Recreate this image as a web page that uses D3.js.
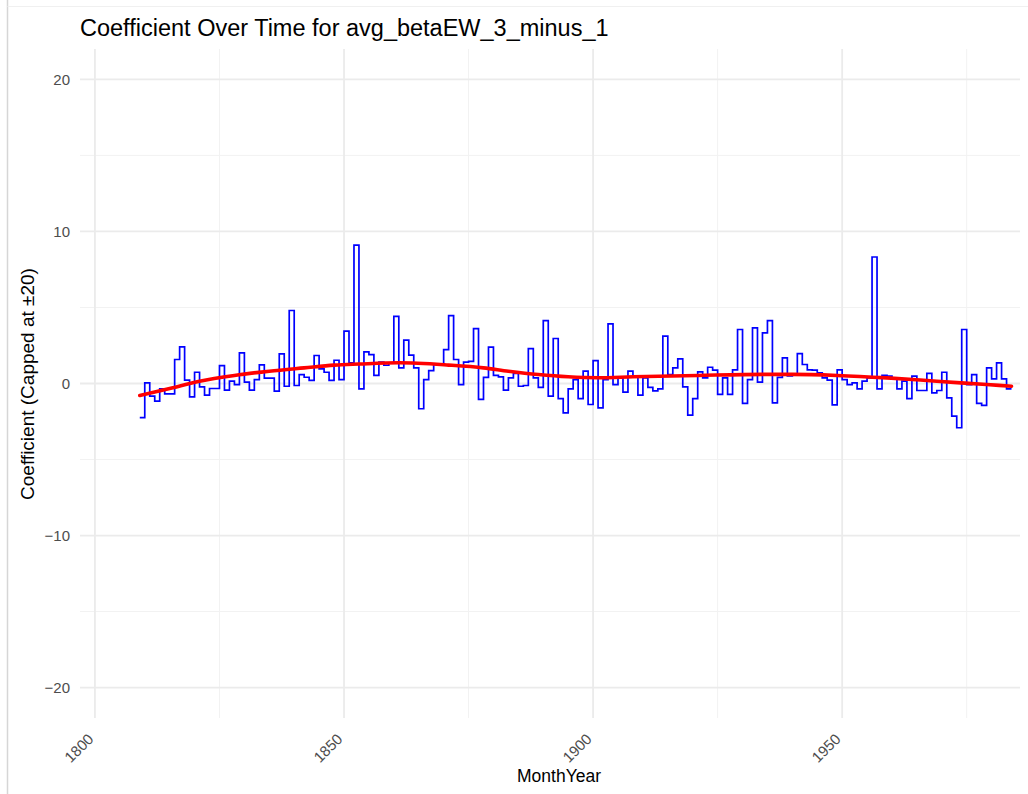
<!DOCTYPE html>
<html><head><meta charset="utf-8">
<script src="https://cdn.jsdelivr.net/npm/d3@7"></script>
<style>
html,body{margin:0;padding:0;background:#fff;}
svg{display:block;font-family:"Liberation Sans",Arial,Helvetica,sans-serif;}
</style></head>
<body><svg id="chart" width="1028" height="794"></svg>
<script>
// ---- data ----
const chartTitle = "Coefficient Over Time for avg_betaEW_3_minus_1";
const xTitle = "MonthYear";
const yTitle = "Coefficient (Capped at \u00B120)";
const startYear = 1809;
const coefValues = [
 -2.25, 0.04, -0.83, -1.16, -0.35, -0.68, -0.68, 1.58, 2.41, 0.22,
 -0.88, 0.74, -0.22, -0.77, -0.33, -0.33, 1.18, -0.44, 0.15, -0.07,
 2.01, 0.09, -0.44, 0.26, 1.23, 0.35, 0.35, -0.5, 1.95, -0.18,
 4.8, -0.13, 0.59, 0.41, 0.2, 1.84, 0.96, 0.74, 0.2, 1.53,
 0.26, 3.44, 1.36, 9.1, -0.35, 2.08, 1.9, 0.53, 1.4, 1.2,
 1.35, 4.42, 1.03, 2.85, 1.86, 1.03, -1.66, 0.26, 0.85, 1.25,
 1.2, 2.23, 4.47, 1.58, -0.07, 1.4, 1.45, 3.61, -1.05, 0.4,
 2.39, 0.53, 0.44, -0.44, 0.37, 0.66, -0.18, -0.13, 2.3, 0.37,
 -0.26, 4.14, -0.83, 2.96, -1.0, -1.93, -0.35, 0.26, -1.0, 0.81,
 -1.38, 1.51, -1.6, 0.26, 3.92, -0.07, 0.35, -0.57, 0.81, 0.42,
 -0.77, 0.37, -0.26, -0.48, -0.35, 3.11, 0.59, 1.03, 1.62, -0.22,
 -2.08, -1.0, 0.77, 0.37, 1.07, 0.88, -0.72, 0.37, -0.72, 0.9,
 3.55, -1.31, 0.26, 3.66, 0.09, 3.33, 4.14, -1.27, 0.4, 1.69,
 0.5, 0.55, 1.97, 1.25, 0.9, 0.88, 0.7, 0.37, 0.22, -1.4,
 0.9, 0.26, -0.07, 0.04, -0.35, 0.15, 0.37, 8.32, -0.35, 0.53,
 0.48, 0.31, -0.35, 0.15, -1.0, 0.48, -0.46, -0.46, 0.66, -0.61,
 -0.46, 0.74, -0.94, -2.15, -2.91, 3.55, -0.07, 0.59, -1.31, -1.44,
 1.03, 0.31, 1.36, 0.31, -0.35, -0.35
];
const smoothYears  = [1809, 1815, 1821, 1828, 1835, 1842, 1848, 1853, 1861, 1871, 1878, 1883, 1889, 1895, 1901, 1908, 1921, 1934, 1940, 1949, 1959, 1969, 1979, 1984];
const smoothValues = [-0.79, -0.33, 0.15, 0.53, 0.81, 1.03, 1.21, 1.28, 1.36, 1.21, 1.03, 0.81, 0.59, 0.44, 0.38, 0.44, 0.53, 0.6, 0.6, 0.53, 0.37, 0.15, -0.07, -0.18];
const xTicks = [1800, 1850, 1900, 1950];
const xMinor = [1825, 1875, 1925, 1975];
const yTicks = [-20, -10, 0, 10, 20];
const yMinor = [-15, -5, 5, 15];
const xDomain = [1797, 1985.7];
const yDomain = [-22, 22];

// ---- layout ----
const panel = {left: 80, right: 1020, top: 49, bottom: 718};
const svg = d3.select("#chart");

// frame lines (screenshot border)
svg.append("line").attr("x1",7.5).attr("x2",7.5).attr("y1",0).attr("y2",794).attr("stroke","#d6d6d6").attr("stroke-width",1.5);
svg.append("line").attr("x1",7.5).attr("x2",1028).attr("y1",6.5).attr("y2",6.5).attr("stroke","#f0f0f0").attr("stroke-width",1);

const x = d3.scaleLinear().domain(xDomain).range([panel.left, panel.right]);
const y = d3.scaleLinear().domain(yDomain).range([panel.bottom, panel.top]);

const grid = svg.append("g");
grid.selectAll(".ymin").data(yMinor).join("line")
  .attr("x1",panel.left).attr("x2",panel.right).attr("y1",d=>y(d)).attr("y2",d=>y(d))
  .attr("stroke","#f2f2f2").attr("stroke-width",1);
grid.selectAll(".xmin").data(xMinor).join("line")
  .attr("y1",panel.top).attr("y2",panel.bottom).attr("x1",d=>x(d)).attr("x2",d=>x(d))
  .attr("stroke","#f2f2f2").attr("stroke-width",1);
grid.selectAll(".ymaj").data(yTicks).join("line")
  .attr("x1",panel.left).attr("x2",panel.right).attr("y1",d=>y(d)).attr("y2",d=>y(d))
  .attr("stroke","#ebebeb").attr("stroke-width",1.8);
grid.selectAll(".xmaj").data(xTicks).join("line")
  .attr("y1",panel.top).attr("y2",panel.bottom).attr("x1",d=>x(d)).attr("x2",d=>x(d))
  .attr("stroke","#ebebeb").attr("stroke-width",1.8);

// axes (labels only, like theme_minimal)
const yAxis = svg.append("g").attr("transform",`translate(${panel.left},0)`)
  .call(d3.axisLeft(y).tickValues(yTicks).tickSize(0).tickPadding(10)
    .tickFormat(d => d < 0 ? "\u2212" + Math.abs(d) : String(d)));
yAxis.select(".domain").remove();
yAxis.selectAll("text").attr("font-size",15).attr("fill","#4d4d4d")
  .attr("font-family","'Liberation Sans',Arial,sans-serif");

const xAxis = svg.append("g").attr("transform",`translate(0,${panel.bottom})`)
  .call(d3.axisBottom(x).tickValues(xTicks).tickSize(0).tickFormat(d3.format("d")));
xAxis.select(".domain").remove();
xAxis.selectAll("text").attr("font-size",15).attr("fill","#4d4d4d")
  .attr("font-family","'Liberation Sans',Arial,sans-serif")
  .attr("text-anchor","end").attr("dy",null).attr("y",0)
  .attr("transform","translate(-1,22) rotate(-45)");

// step line
const stepData = coefValues.map((v,i)=>({year:startYear+i, v}));
const stepLine = d3.line().x(d=>x(d.year)).y(d=>y(d.v)).curve(d3.curveStepAfter);
svg.append("path").datum(stepData).attr("d",stepLine)
  .attr("fill","none").attr("stroke","#0000ff").attr("stroke-width",1.7);

// smooth line
const smoothData = smoothYears.map((yr,i)=>({year:yr, v:smoothValues[i]}));
const smoothLine = d3.line().x(d=>x(d.year)).y(d=>y(d.v)).curve(d3.curveMonotoneX);
svg.append("path").datum(smoothData).attr("d",smoothLine)
  .attr("fill","none").attr("stroke","#ff0000").attr("stroke-width",3.6)
  .attr("stroke-linecap","round");

// titles
svg.append("text").attr("x",80).attr("y",36).attr("font-size",23.5).attr("fill","#000")
  .text(chartTitle);
svg.append("text").attr("x",559).attr("y",782)
  .attr("text-anchor","middle").attr("font-size",17.5).attr("fill","#000").text(xTitle);
svg.append("text").attr("transform",`translate(34,384) rotate(-90)`)
  .attr("text-anchor","middle").attr("font-size",19).attr("fill","#000").text(yTitle);
</script></body></html>
